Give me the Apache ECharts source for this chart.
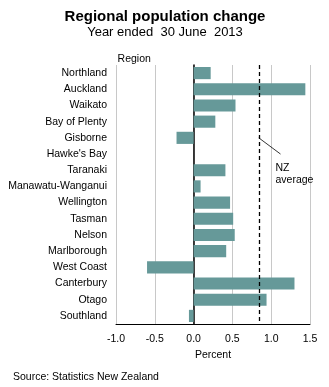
<!DOCTYPE html>
<html><head><meta charset="utf-8">
<script src="https://cdn.jsdelivr.net/npm/echarts@6/dist/echarts.min.js"></script>
<style>html,body{margin:0;padding:0;background:#fff}#c{width:329px;height:387px}</style>
</head><body><div id="c"></div>
<script>
const regions = ["Northland","Auckland","Waikato","Bay of Plenty","Gisborne","Hawke's Bay","Taranaki","Manawatu-Wanganui","Wellington","Tasman","Nelson","Marlborough","West Coast","Canterbury","Otago","Southland"];
const changePct = [0.22,1.44,0.54,0.28,-0.22,0.0,0.41,0.09,0.47,0.51,0.53,0.42,-0.60,1.30,0.94,-0.06];
const nzAverage = 0.84;
const xTicks = {min:-1, max:1.5, interval:0.5};
const FONT = 'Liberation Sans, Arial, sans-serif';

const chart = echarts.init(document.getElementById('c'), null, {renderer:'canvas'});
chart.setOption({
  animation:false,
  backgroundColor:'#fff',
  title:[
    {text:'Regional population change', left:160, top:4, textAlign:'center',
     textStyle:{fontFamily:FONT, fontSize:15, fontWeight:'bold', color:'#000'}},
    {text:'Year ended  30 June  2013', left:160, top:21, textAlign:'center',
     textStyle:{fontFamily:FONT, fontSize:13, fontWeight:'normal', color:'#000'}},
    {text:'Source: Statistics New Zealand', left:8, top:367,
     textStyle:{fontFamily:FONT, fontSize:10.5, fontWeight:'normal', color:'#000'}}
  ],
  grid:{left:116, right:19, top:65, bottom:63, containLabel:false},
  xAxis:{type:'value', min:xTicks.min, max:xTicks.max, interval:xTicks.interval,
    axisLine:{show:true, onZero:false, lineStyle:{color:'#000', width:1}},
    axisTick:{show:false},
    axisLabel:{margin:10, fontFamily:FONT, fontSize:10.5, color:'#000', formatter:v=>v.toFixed(1)},
    splitLine:{show:true, lineStyle:{color:'#c8c8c8', width:1}},
    name:'Percent', nameLocation:'middle', nameGap:25,
    nameTextStyle:{fontFamily:FONT, fontSize:10.5, color:'#000'}
  },
  yAxis:{type:'category', data:regions, inverse:true,
    axisLine:{show:true, onZero:true, lineStyle:{color:'#000', width:1.5}},
    axisTick:{show:false},
    axisLabel:{margin:9, fontFamily:FONT, fontSize:10.5, color:'#000'},
    name:'Region', nameLocation:'start', nameGap:0,
    nameTextStyle:{fontFamily:FONT, fontSize:10.5, color:'#000', align:'left', padding:[0,0,0,-76]}
  },
  series:[{
    type:'bar', data:changePct, barCategoryGap:'25%',
    itemStyle:{color:'#669999'},
    markLine:{silent:true, symbol:['none','none'],
      label:{show:false},
      lineStyle:{color:'#000', type:[4,3], width:1.3},
      data:[{xAxis:nzAverage}]
    }
  }]
});

function addAnnotation(){
  const p0 = chart.convertToPixel({gridIndex:0}, [nzAverage, 4]);
  const p1 = chart.convertToPixel({gridIndex:0}, [1.12, 5.3]);
  chart.setOption({graphic:[
    {type:'line', shape:{x1:p0[0], y1:p0[1], x2:p1[0], y2:p1[1]}, style:{stroke:'#000', lineWidth:0.8}},
    {type:'text', x:p1[0]-5, y:p1[1]+8, style:{text:'NZ\naverage', font:'10.5px '+FONT, fill:'#000', lineHeight:12}}
  ]});
}
addAnnotation();
</script></body></html>
